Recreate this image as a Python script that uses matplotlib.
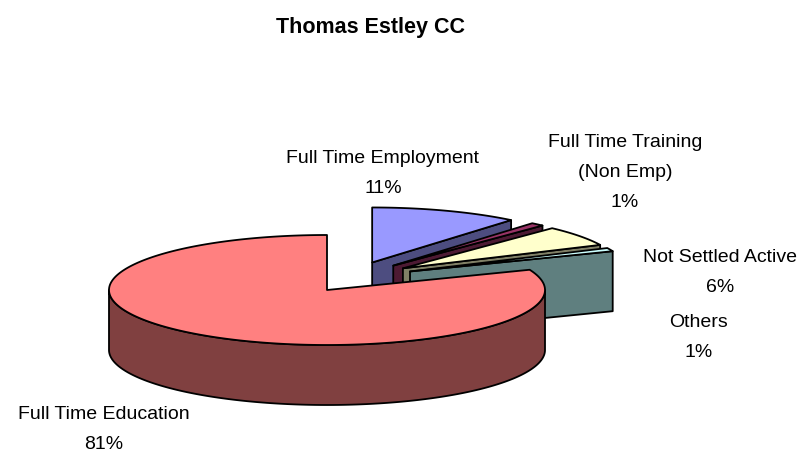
import numpy as np
import matplotlib
matplotlib.use("Agg")
import matplotlib.pyplot as plt
from matplotlib.patches import Polygon

# ---------------- data ----------------
title = "Thomas Estley CC"
categories = ["Full Time Employment", "Full Time Training\n(Non Emp)",
              "Not Settled Active", "Others", "Full Time Education"]
values = [11, 1, 6, 1, 81]

# ---------------- style ----------------
top_colors = ["#9999FF", "#993366", "#FFFFCC", "#CCFFFF", "#FF8080"]
side_colors = ["#4D4D80", "#4D1A33", "#808066", "#5F7F7F", "#804040"]
explode = [0.3, 0.3, 0.3, 0.3, 0.0]
GROUP_SHIFT = (23, -12)          # extra shift of the exploded group (px)
W, H = 808, 454
CX, CY = 327, 290                # pie centre (px)
RA, RB = 218, 55                 # ellipse semi axes (px)
DEPTH = 60                       # pie thickness (px)
label_pos = [(383, 163), (625, 147), (720, 262), (699, 327), (104, 419)]
LINE_PITCH = 30
FONT = "Liberation Sans"

fig = plt.figure(figsize=(W / 100, H / 100), dpi=100)
ax = fig.add_axes([0, 0, 1, 1])
ax.set_xlim(0, W)
ax.set_ylim(H, 0)
ax.axis("off")


def rim(theta, cx, cy, z=0.0):
    t = np.radians(theta)
    return cx + RA * np.sin(t), cy - RB * np.cos(t) + z


def arc(s, e, cx, cy, z=0.0, n=None):
    if n is None:
        n = max(2, int(abs(e - s) * 2) + 2)
    th = np.linspace(s, e, n)
    x, y = rim(th, cx, cy, z)
    return list(zip(x, y))


def poly(pts, fc):
    ax.add_patch(Polygon(pts, closed=True, facecolor=fc, edgecolor="black",
                         linewidth=1.3, joinstyle="round"))


total = float(sum(values))
bounds = np.concatenate([[0], np.cumsum(values)]) / total * 360.0

for i in range(len(values)):
    s, e = bounds[i], bounds[i + 1]
    m = np.radians((s + e) / 2)
    cx, cy = CX, CY
    if explode[i] > 0:
        cx += explode[i] * RA * np.sin(m) + GROUP_SHIFT[0]
        cy += -explode[i] * RB * np.cos(m) + GROUP_SHIFT[1]
    # outer wall (front half only)
    ws, we = max(s, 90.0), min(e, 270.0)
    if we > ws:
        top = arc(ws, we, cx, cy)
        bot = arc(ws, we, cx, cy, DEPTH)
        poly(top + bot[::-1], side_colors[i])
    # end radial face
    if 0 < e < 180:
        x1, y1 = rim(e, cx, cy)
        poly([(cx, cy), (x1, y1), (x1, y1 + DEPTH), (cx, cy + DEPTH)], side_colors[i])
    # start radial face
    if 180 < s < 360:
        x1, y1 = rim(s, cx, cy)
        poly([(cx, cy), (x1, y1), (x1, y1 + DEPTH), (cx, cy + DEPTH)], side_colors[i])
    # top
    poly([(cx, cy)] + arc(s, e, cx, cy), top_colors[i])

# labels
for i, cat in enumerate(categories):
    pct = f"{round(values[i] / total * 100):.0f}%"
    lines = cat.split("\n") + [pct]
    x0, y0 = label_pos[i]
    for k, ln in enumerate(lines):
        ax.text(x0, y0 + k * LINE_PITCH, ln, ha="center", va="baseline",
                fontsize=14, family=FONT, color="black")

ax.text(370, 33, title, ha="center", va="baseline", fontsize=15.5,
        fontweight="bold", family=FONT, color="black")

fig.savefig("out.png", dpi=100)
